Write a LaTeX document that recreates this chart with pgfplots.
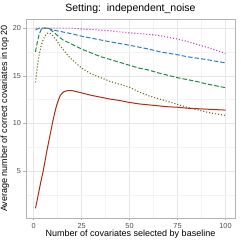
\documentclass[border=0pt]{standalone}
\usepackage{pgfplots}
\pgfplotsset{compat=1.18}
\usepackage{fontspec}
\setmainfont{Liberation Sans}
\definecolor{cred}{HTML}{B22A10}
\definecolor{colive}{HTML}{6E6E22}
\definecolor{cgreen}{HTML}{1F8A4A}
\definecolor{cblue}{HTML}{2A7EC8}
\definecolor{cmag}{HTML}{CC3ECC}
\definecolor{gridmaj}{HTML}{E6E6E6}
\definecolor{gridmin}{HTML}{F3F3F3}
\definecolor{bordc}{HTML}{B3B3B3}
\begin{document}
\begin{tikzpicture}
\useasboundingbox (-26bp,-23bp) rectangle (215bp,218bp);
\begin{axis}[
  anchor=south west, at={(0,0)},
  scale only axis, width=209bp, height=199bp,
  xmin=-3.95, xmax=104.95, ymin=0.09, ymax=20.95,
  xtick={0,25,50,75,100}, ytick={5,10,15,20},
  minor xtick={12.5,37.5,62.5,87.5}, minor ytick={2.5,7.5,12.5,17.5},
  grid=both,
  major grid style={gridmaj, line width=0.5bp},
  minor grid style={gridmin, line width=0.3bp},
  axis line style={bordc, line width=0.6bp},
  tick style={bordc, line width=0.5bp},
  major tick length=2.5bp, minor tick length=0pt,
  tick align=outside,
  xtick pos=bottom, ytick pos=left,
  /pgf/number format/assume math mode=true,
  ticklabel style={font=\fontsize{7.3bp}{8bp}\selectfont, text=black!70},
  xticklabel style={yshift=1bp},
  yticklabel style={xshift=1bp},
  title={Setting:\ \ independent\_noise},
  title style={font=\fontsize{10.5bp}{12bp}\selectfont, at={(0.5,1)}, anchor=base, yshift=1.5bp},
  xlabel={Number of covariates selected by baseline},
  ylabel={Average number of correct covariates in top 20},
  label style={font=\fontsize{9bp}{10bp}\selectfont},
  xlabel style={at={(0.5,0)}, anchor=base, yshift=-18bp},
  ylabel style={at={(0,0.5)}, anchor=base, yshift=19bp},
  every axis plot/.append style={line width=1bp},
]
\addplot[cred, solid] coordinates {(1,1.1)(2,2.1)(3,3.1)(4,4.1)(5,5.0)(6,6.1)(7,7.2)(8,8.2)(9,9.2)(10,10.2)(11,11.1)(12,11.9)(13,12.5)(14,12.95)(15,13.2)(16,13.35)(18,13.45)(20,13.45)(22,13.35)(25,13.2)(30,12.95)(35,12.75)(40,12.55)(45,12.4)(50,12.2)(55,12.05)(60,11.95)(65,11.85)(70,11.75)(75,11.7)(80,11.6)(85,11.55)(90,11.5)(95,11.45)(100,11.4)};
\addplot[colive, line width=1.1bp, dash pattern=on 1.1bp off 1.9bp] coordinates {(1,14.3)(2,16.0)(3,17.3)(4,18.2)(5,18.8)(6,19.2)(7,19.45)(8,19.5)(9,19.4)(10,19.2)(12,18.7)(14,18.1)(16,17.6)(18,17.1)(20,16.7)(25,15.8)(30,15.2)(35,14.8)(40,14.4)(45,14.1)(50,13.8)(55,13.3)(60,12.9)(65,12.6)(70,12.3)(75,12.0)(80,11.7)(85,11.45)(90,11.2)(95,11.0)(100,10.85)};
\addplot[cgreen, dash pattern=on 4.5bp off 2bp] coordinates {(1,17.5)(2,18.6)(3,19.4)(4,19.85)(5,20)(7,20)(9,19.8)(12,19.3)(15,18.8)(20,18.3)(25,17.8)(30,17.4)(35,17.0)(40,16.7)(45,16.4)(50,16.1)(55,15.8)(60,15.6)(65,15.3)(70,15.05)(75,14.8)(80,14.6)(85,14.4)(90,14.15)(95,13.95)(100,13.75)};
\addplot[cblue, dash pattern=on 4.5bp off 2bp] coordinates {(1,19.8)(3,20)(5,20)(8,19.95)(10,19.8)(15,19.6)(20,19.4)(25,19.15)(30,18.95)(40,18.55)(50,18.2)(60,17.8)(66,17.5)(75,17.2)(80,17.0)(90,16.7)(100,16.35)};
\addplot[cmag, line width=1.1bp, dash pattern=on 1.1bp off 1.9bp] coordinates {(1,20)(10,20)(20,20)(25,19.9)(30,19.85)(40,19.7)(50,19.5)(60,19.35)(66,19.2)(75,18.85)(80,18.6)(90,18.0)(100,17.35)};
\end{axis}
\end{tikzpicture}
\end{document}
